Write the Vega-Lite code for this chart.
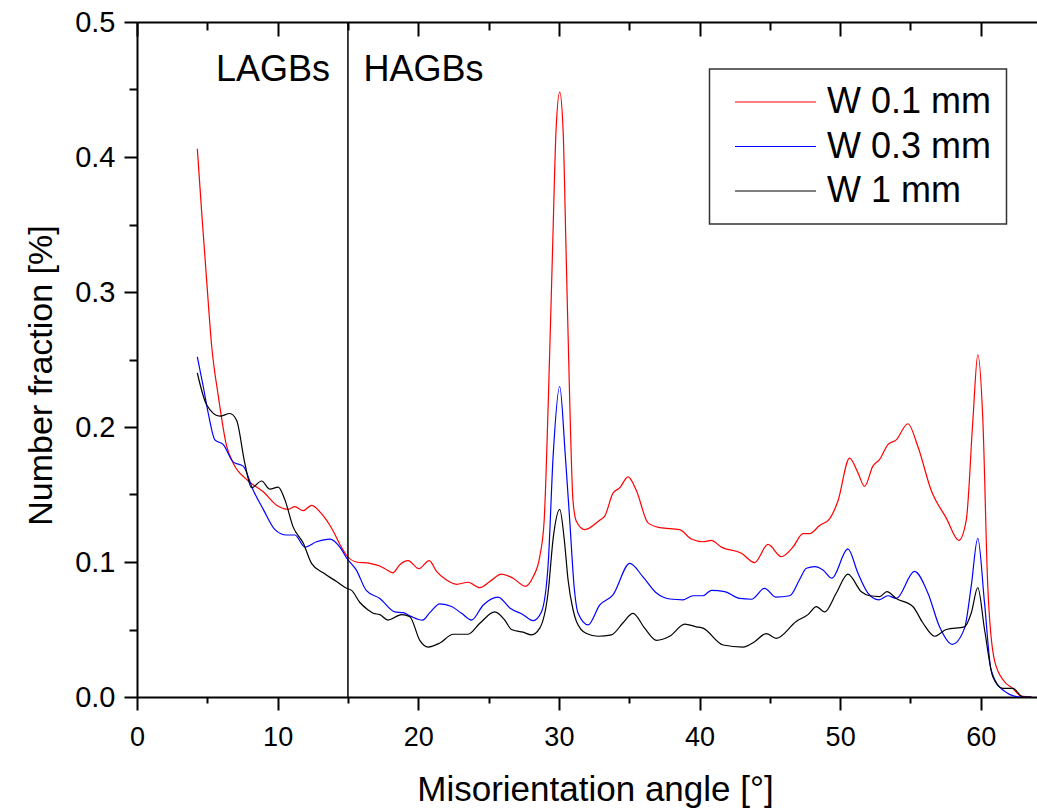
{
  "$schema": "https://vega.github.io/schema/vega-lite/v6.json",
  "width": 900,
  "height": 675,
  "autosize": {"type": "none"},
  "padding": {"left": 137, "top": 22, "right": 0, "bottom": 114},
  "background": "white",
  "config": {
    "font": "Liberation Sans",
    "view": {"stroke": null},
    "axis": {"grid": false, "domainColor": "black", "domainWidth": 2, "tickColor": "black", "tickWidth": 2, "labelColor": "black", "titleColor": "black", "labelFont": "Liberation Sans", "titleFont": "Liberation Sans", "titleFontWeight": "normal"}
  },
  "datasets": {
    "curves": [
      {"series": "W 0.1 mm", "angle": 4.29, "value": 0.406},
      {"series": "W 0.1 mm", "angle": 4.6, "value": 0.359},
      {"series": "W 0.1 mm", "angle": 4.95, "value": 0.309},
      {"series": "W 0.1 mm", "angle": 5.31, "value": 0.26},
      {"series": "W 0.1 mm", "angle": 5.78, "value": 0.223},
      {"series": "W 0.1 mm", "angle": 6.37, "value": 0.186},
      {"series": "W 0.1 mm", "angle": 6.85, "value": 0.173},
      {"series": "W 0.1 mm", "angle": 7.8, "value": 0.161},
      {"series": "W 0.1 mm", "angle": 8.98, "value": 0.152},
      {"series": "W 0.1 mm", "angle": 9.93, "value": 0.142},
      {"series": "W 0.1 mm", "angle": 10.76, "value": 0.139},
      {"series": "W 0.1 mm", "angle": 11.23, "value": 0.141},
      {"series": "W 0.1 mm", "angle": 11.82, "value": 0.138},
      {"series": "W 0.1 mm", "angle": 12.41, "value": 0.142},
      {"series": "W 0.1 mm", "angle": 13.1, "value": 0.136},
      {"series": "W 0.1 mm", "angle": 13.95, "value": 0.123},
      {"series": "W 0.1 mm", "angle": 14.43, "value": 0.113},
      {"series": "W 0.1 mm", "angle": 14.9, "value": 0.105},
      {"series": "W 0.1 mm", "angle": 15.6, "value": 0.1},
      {"series": "W 0.1 mm", "angle": 16.56, "value": 0.099},
      {"series": "W 0.1 mm", "angle": 17.27, "value": 0.097},
      {"series": "W 0.1 mm", "angle": 17.63, "value": 0.095},
      {"series": "W 0.1 mm", "angle": 18.2, "value": 0.092},
      {"series": "W 0.1 mm", "angle": 18.69, "value": 0.098},
      {"series": "W 0.1 mm", "angle": 19.28, "value": 0.101},
      {"series": "W 0.1 mm", "angle": 20.04, "value": 0.095},
      {"series": "W 0.1 mm", "angle": 20.78, "value": 0.101},
      {"series": "W 0.1 mm", "angle": 21.3, "value": 0.093},
      {"series": "W 0.1 mm", "angle": 21.96, "value": 0.087},
      {"series": "W 0.1 mm", "angle": 22.72, "value": 0.0835},
      {"series": "W 0.1 mm", "angle": 23.55, "value": 0.085},
      {"series": "W 0.1 mm", "angle": 24.38, "value": 0.081},
      {"series": "W 0.1 mm", "angle": 25.09, "value": 0.0855},
      {"series": "W 0.1 mm", "angle": 25.92, "value": 0.091},
      {"series": "W 0.1 mm", "angle": 26.74, "value": 0.088},
      {"series": "W 0.1 mm", "angle": 27.62, "value": 0.082},
      {"series": "W 0.1 mm", "angle": 28.17, "value": 0.089},
      {"series": "W 0.1 mm", "angle": 28.64, "value": 0.104},
      {"series": "W 0.1 mm", "angle": 28.95, "value": 0.13},
      {"series": "W 0.1 mm", "angle": 29.25, "value": 0.22},
      {"series": "W 0.1 mm", "angle": 29.55, "value": 0.331},
      {"series": "W 0.1 mm", "angle": 29.8, "value": 0.42},
      {"series": "W 0.1 mm", "angle": 30.06, "value": 0.448},
      {"series": "W 0.1 mm", "angle": 30.3, "value": 0.42},
      {"series": "W 0.1 mm", "angle": 30.51, "value": 0.331},
      {"series": "W 0.1 mm", "angle": 30.77, "value": 0.22},
      {"series": "W 0.1 mm", "angle": 31.0, "value": 0.146},
      {"series": "W 0.1 mm", "angle": 31.25, "value": 0.13},
      {"series": "W 0.1 mm", "angle": 31.84, "value": 0.124},
      {"series": "W 0.1 mm", "angle": 32.9, "value": 0.131},
      {"series": "W 0.1 mm", "angle": 33.26, "value": 0.134},
      {"series": "W 0.1 mm", "angle": 33.85, "value": 0.151},
      {"series": "W 0.1 mm", "angle": 34.33, "value": 0.155},
      {"series": "W 0.1 mm", "angle": 34.92, "value": 0.163},
      {"series": "W 0.1 mm", "angle": 35.51, "value": 0.153},
      {"series": "W 0.1 mm", "angle": 36.34, "value": 0.129},
      {"series": "W 0.1 mm", "angle": 37.17, "value": 0.1255},
      {"series": "W 0.1 mm", "angle": 38.59, "value": 0.124},
      {"series": "W 0.1 mm", "angle": 39.42, "value": 0.117},
      {"series": "W 0.1 mm", "angle": 40.25, "value": 0.115},
      {"series": "W 0.1 mm", "angle": 40.84, "value": 0.116},
      {"series": "W 0.1 mm", "angle": 41.56, "value": 0.111},
      {"series": "W 0.1 mm", "angle": 42.98, "value": 0.1065},
      {"series": "W 0.1 mm", "angle": 43.92, "value": 0.0996},
      {"series": "W 0.1 mm", "angle": 44.87, "value": 0.113},
      {"series": "W 0.1 mm", "angle": 45.82, "value": 0.104},
      {"series": "W 0.1 mm", "angle": 46.64, "value": 0.111},
      {"series": "W 0.1 mm", "angle": 47.36, "value": 0.121},
      {"series": "W 0.1 mm", "angle": 47.83, "value": 0.121},
      {"series": "W 0.1 mm", "angle": 48.54, "value": 0.127},
      {"series": "W 0.1 mm", "angle": 49.25, "value": 0.132},
      {"series": "W 0.1 mm", "angle": 49.84, "value": 0.145},
      {"series": "W 0.1 mm", "angle": 50.67, "value": 0.177},
      {"series": "W 0.1 mm", "angle": 51.27, "value": 0.166},
      {"series": "W 0.1 mm", "angle": 51.74, "value": 0.156},
      {"series": "W 0.1 mm", "angle": 52.33, "value": 0.171},
      {"series": "W 0.1 mm", "angle": 52.81, "value": 0.176},
      {"series": "W 0.1 mm", "angle": 53.4, "value": 0.187},
      {"series": "W 0.1 mm", "angle": 53.99, "value": 0.1905},
      {"series": "W 0.1 mm", "angle": 54.82, "value": 0.2024},
      {"series": "W 0.1 mm", "angle": 55.53, "value": 0.1855},
      {"series": "W 0.1 mm", "angle": 56.48, "value": 0.153},
      {"series": "W 0.1 mm", "angle": 57.55, "value": 0.1325},
      {"series": "W 0.1 mm", "angle": 58.44, "value": 0.116},
      {"series": "W 0.1 mm", "angle": 58.97, "value": 0.131},
      {"series": "W 0.1 mm", "angle": 59.44, "value": 0.205},
      {"series": "W 0.1 mm", "angle": 59.79, "value": 0.2535},
      {"series": "W 0.1 mm", "angle": 60.15, "value": 0.205},
      {"series": "W 0.1 mm", "angle": 60.5, "value": 0.082},
      {"series": "W 0.1 mm", "angle": 60.98, "value": 0.027},
      {"series": "W 0.1 mm", "angle": 61.69, "value": 0.0113},
      {"series": "W 0.1 mm", "angle": 62.28, "value": 0.0064},
      {"series": "W 0.1 mm", "angle": 62.87, "value": 0.0007},
      {"series": "W 0.1 mm", "angle": 63.6, "value": 0},
      {"series": "W 0.3 mm", "angle": 4.29, "value": 0.252},
      {"series": "W 0.3 mm", "angle": 4.71, "value": 0.23},
      {"series": "W 0.3 mm", "angle": 5.07, "value": 0.21},
      {"series": "W 0.3 mm", "angle": 5.54, "value": 0.1905},
      {"series": "W 0.3 mm", "angle": 6.14, "value": 0.187},
      {"series": "W 0.3 mm", "angle": 6.85, "value": 0.174},
      {"series": "W 0.3 mm", "angle": 7.55, "value": 0.171},
      {"series": "W 0.3 mm", "angle": 8.27, "value": 0.153},
      {"series": "W 0.3 mm", "angle": 8.98, "value": 0.139},
      {"series": "W 0.3 mm", "angle": 9.81, "value": 0.124},
      {"series": "W 0.3 mm", "angle": 10.64, "value": 0.12},
      {"series": "W 0.3 mm", "angle": 11.23, "value": 0.12},
      {"series": "W 0.3 mm", "angle": 11.94, "value": 0.111},
      {"series": "W 0.3 mm", "angle": 12.77, "value": 0.115},
      {"series": "W 0.3 mm", "angle": 13.72, "value": 0.117},
      {"series": "W 0.3 mm", "angle": 14.43, "value": 0.111},
      {"series": "W 0.3 mm", "angle": 14.9, "value": 0.103},
      {"series": "W 0.3 mm", "angle": 15.6, "value": 0.094},
      {"series": "W 0.3 mm", "angle": 16.3, "value": 0.079},
      {"series": "W 0.3 mm", "angle": 17.27, "value": 0.073},
      {"series": "W 0.3 mm", "angle": 18.34, "value": 0.063},
      {"series": "W 0.3 mm", "angle": 18.93, "value": 0.0625},
      {"series": "W 0.3 mm", "angle": 19.52, "value": 0.0595},
      {"series": "W 0.3 mm", "angle": 20.3, "value": 0.057},
      {"series": "W 0.3 mm", "angle": 20.82, "value": 0.0625},
      {"series": "W 0.3 mm", "angle": 21.54, "value": 0.069},
      {"series": "W 0.3 mm", "angle": 22.37, "value": 0.067},
      {"series": "W 0.3 mm", "angle": 23.08, "value": 0.062},
      {"series": "W 0.3 mm", "angle": 23.79, "value": 0.057},
      {"series": "W 0.3 mm", "angle": 24.61, "value": 0.068},
      {"series": "W 0.3 mm", "angle": 25.68, "value": 0.074},
      {"series": "W 0.3 mm", "angle": 26.51, "value": 0.066},
      {"series": "W 0.3 mm", "angle": 27.46, "value": 0.061},
      {"series": "W 0.3 mm", "angle": 28.17, "value": 0.0566},
      {"series": "W 0.3 mm", "angle": 28.76, "value": 0.063},
      {"series": "W 0.3 mm", "angle": 29.23, "value": 0.097},
      {"series": "W 0.3 mm", "angle": 29.6, "value": 0.18},
      {"series": "W 0.3 mm", "angle": 30.06, "value": 0.23},
      {"series": "W 0.3 mm", "angle": 30.45, "value": 0.18},
      {"series": "W 0.3 mm", "angle": 30.77, "value": 0.131},
      {"series": "W 0.3 mm", "angle": 31.1, "value": 0.08},
      {"series": "W 0.3 mm", "angle": 31.37, "value": 0.062},
      {"series": "W 0.3 mm", "angle": 32.08, "value": 0.0534},
      {"series": "W 0.3 mm", "angle": 32.9, "value": 0.068},
      {"series": "W 0.3 mm", "angle": 33.85, "value": 0.0756},
      {"series": "W 0.3 mm", "angle": 35.04, "value": 0.099},
      {"series": "W 0.3 mm", "angle": 35.98, "value": 0.089},
      {"series": "W 0.3 mm", "angle": 36.94, "value": 0.077},
      {"series": "W 0.3 mm", "angle": 37.88, "value": 0.0726},
      {"series": "W 0.3 mm", "angle": 38.83, "value": 0.072},
      {"series": "W 0.3 mm", "angle": 39.54, "value": 0.075},
      {"series": "W 0.3 mm", "angle": 40.25, "value": 0.075},
      {"series": "W 0.3 mm", "angle": 40.84, "value": 0.079},
      {"series": "W 0.3 mm", "angle": 41.79, "value": 0.078},
      {"series": "W 0.3 mm", "angle": 42.86, "value": 0.073},
      {"series": "W 0.3 mm", "angle": 43.69, "value": 0.0724},
      {"series": "W 0.3 mm", "angle": 44.63, "value": 0.0805},
      {"series": "W 0.3 mm", "angle": 45.42, "value": 0.074},
      {"series": "W 0.3 mm", "angle": 46.41, "value": 0.075},
      {"series": "W 0.3 mm", "angle": 47.12, "value": 0.087},
      {"series": "W 0.3 mm", "angle": 47.6, "value": 0.0954},
      {"series": "W 0.3 mm", "angle": 48.19, "value": 0.0966},
      {"series": "W 0.3 mm", "angle": 48.78, "value": 0.0941},
      {"series": "W 0.3 mm", "angle": 49.42, "value": 0.088},
      {"series": "W 0.3 mm", "angle": 50.55, "value": 0.1097},
      {"series": "W 0.3 mm", "angle": 51.27, "value": 0.0917},
      {"series": "W 0.3 mm", "angle": 51.98, "value": 0.077},
      {"series": "W 0.3 mm", "angle": 52.76, "value": 0.072},
      {"series": "W 0.3 mm", "angle": 53.4, "value": 0.075},
      {"series": "W 0.3 mm", "angle": 53.99, "value": 0.073},
      {"series": "W 0.3 mm", "angle": 55.29, "value": 0.093},
      {"series": "W 0.3 mm", "angle": 56.24, "value": 0.077},
      {"series": "W 0.3 mm", "angle": 57.07, "value": 0.052},
      {"series": "W 0.3 mm", "angle": 57.97, "value": 0.039},
      {"series": "W 0.3 mm", "angle": 58.85, "value": 0.051},
      {"series": "W 0.3 mm", "angle": 59.32, "value": 0.082},
      {"series": "W 0.3 mm", "angle": 59.79, "value": 0.1176},
      {"series": "W 0.3 mm", "angle": 60.27, "value": 0.0695},
      {"series": "W 0.3 mm", "angle": 60.74, "value": 0.02},
      {"series": "W 0.3 mm", "angle": 61.57, "value": 0.0052},
      {"series": "W 0.3 mm", "angle": 62.8, "value": 0},
      {"series": "W 0.3 mm", "angle": 63.6, "value": 0},
      {"series": "W 1 mm", "angle": 4.29, "value": 0.24},
      {"series": "W 1 mm", "angle": 4.95, "value": 0.2165},
      {"series": "W 1 mm", "angle": 5.9, "value": 0.208},
      {"series": "W 1 mm", "angle": 6.6, "value": 0.21},
      {"series": "W 1 mm", "angle": 7.08, "value": 0.205},
      {"series": "W 1 mm", "angle": 7.67, "value": 0.173},
      {"series": "W 1 mm", "angle": 8.15, "value": 0.155},
      {"series": "W 1 mm", "angle": 8.86, "value": 0.16},
      {"series": "W 1 mm", "angle": 9.45, "value": 0.154},
      {"series": "W 1 mm", "angle": 10.04, "value": 0.1555},
      {"series": "W 1 mm", "angle": 10.52, "value": 0.146},
      {"series": "W 1 mm", "angle": 11.1, "value": 0.126},
      {"series": "W 1 mm", "angle": 11.82, "value": 0.114},
      {"series": "W 1 mm", "angle": 12.41, "value": 0.099},
      {"series": "W 1 mm", "angle": 13.24, "value": 0.092},
      {"series": "W 1 mm", "angle": 14.19, "value": 0.0855},
      {"series": "W 1 mm", "angle": 14.9, "value": 0.0805},
      {"series": "W 1 mm", "angle": 15.26, "value": 0.079},
      {"series": "W 1 mm", "angle": 15.85, "value": 0.07},
      {"series": "W 1 mm", "angle": 16.44, "value": 0.0645},
      {"series": "W 1 mm", "angle": 16.8, "value": 0.062},
      {"series": "W 1 mm", "angle": 17.27, "value": 0.061},
      {"series": "W 1 mm", "angle": 17.86, "value": 0.057},
      {"series": "W 1 mm", "angle": 18.81, "value": 0.061},
      {"series": "W 1 mm", "angle": 19.4, "value": 0.0595},
      {"series": "W 1 mm", "angle": 20.11, "value": 0.042},
      {"series": "W 1 mm", "angle": 20.7, "value": 0.037},
      {"series": "W 1 mm", "angle": 21.54, "value": 0.04},
      {"series": "W 1 mm", "angle": 22.48, "value": 0.0465},
      {"series": "W 1 mm", "angle": 23.55, "value": 0.0465},
      {"series": "W 1 mm", "angle": 24.38, "value": 0.0546},
      {"series": "W 1 mm", "angle": 25.44, "value": 0.063},
      {"series": "W 1 mm", "angle": 26.15, "value": 0.057},
      {"series": "W 1 mm", "angle": 26.63, "value": 0.05},
      {"series": "W 1 mm", "angle": 27.46, "value": 0.048},
      {"series": "W 1 mm", "angle": 28.05, "value": 0.046},
      {"series": "W 1 mm", "angle": 28.64, "value": 0.051},
      {"series": "W 1 mm", "angle": 29.23, "value": 0.077},
      {"series": "W 1 mm", "angle": 29.6, "value": 0.118},
      {"series": "W 1 mm", "angle": 30.06, "value": 0.139},
      {"series": "W 1 mm", "angle": 30.4, "value": 0.115},
      {"series": "W 1 mm", "angle": 30.65, "value": 0.087},
      {"series": "W 1 mm", "angle": 31.0, "value": 0.065},
      {"series": "W 1 mm", "angle": 31.25, "value": 0.056},
      {"series": "W 1 mm", "angle": 31.96, "value": 0.047},
      {"series": "W 1 mm", "angle": 32.79, "value": 0.045},
      {"series": "W 1 mm", "angle": 33.74, "value": 0.046},
      {"series": "W 1 mm", "angle": 34.56, "value": 0.055},
      {"series": "W 1 mm", "angle": 35.27, "value": 0.062},
      {"series": "W 1 mm", "angle": 36.1, "value": 0.051},
      {"series": "W 1 mm", "angle": 36.94, "value": 0.042},
      {"series": "W 1 mm", "angle": 37.88, "value": 0.045},
      {"series": "W 1 mm", "angle": 38.95, "value": 0.054},
      {"series": "W 1 mm", "angle": 39.78, "value": 0.052},
      {"series": "W 1 mm", "angle": 40.25, "value": 0.051},
      {"series": "W 1 mm", "angle": 41.67, "value": 0.0385},
      {"series": "W 1 mm", "angle": 43.09, "value": 0.037},
      {"series": "W 1 mm", "angle": 43.92, "value": 0.041},
      {"series": "W 1 mm", "angle": 44.75, "value": 0.047},
      {"series": "W 1 mm", "angle": 45.46, "value": 0.0435},
      {"series": "W 1 mm", "angle": 46.88, "value": 0.056},
      {"series": "W 1 mm", "angle": 47.71, "value": 0.061},
      {"series": "W 1 mm", "angle": 48.31, "value": 0.067},
      {"series": "W 1 mm", "angle": 48.9, "value": 0.063},
      {"series": "W 1 mm", "angle": 49.73, "value": 0.077},
      {"series": "W 1 mm", "angle": 50.55, "value": 0.091},
      {"series": "W 1 mm", "angle": 51.51, "value": 0.078},
      {"series": "W 1 mm", "angle": 52.1, "value": 0.075},
      {"series": "W 1 mm", "angle": 52.81, "value": 0.0744},
      {"series": "W 1 mm", "angle": 53.33, "value": 0.078},
      {"series": "W 1 mm", "angle": 53.99, "value": 0.073},
      {"series": "W 1 mm", "angle": 55.17, "value": 0.067},
      {"series": "W 1 mm", "angle": 55.88, "value": 0.055},
      {"series": "W 1 mm", "angle": 56.72, "value": 0.045},
      {"series": "W 1 mm", "angle": 57.55, "value": 0.05},
      {"series": "W 1 mm", "angle": 58.85, "value": 0.052},
      {"series": "W 1 mm", "angle": 59.32, "value": 0.062},
      {"series": "W 1 mm", "angle": 59.79, "value": 0.081},
      {"series": "W 1 mm", "angle": 60.27, "value": 0.05},
      {"series": "W 1 mm", "angle": 60.86, "value": 0.015},
      {"series": "W 1 mm", "angle": 61.57, "value": 0.0064},
      {"series": "W 1 mm", "angle": 62.28, "value": 0.0064},
      {"series": "W 1 mm", "angle": 63.0, "value": 0},
      {"series": "W 1 mm", "angle": 63.6, "value": 0}
    ],
    "boundary": [{"angle": 15}],
    "labels": [
      {"text": "LAGBs", "angle": 5.62, "value": 0.4563},
      {"text": "HAGBs", "angle": 16.1, "value": 0.4563}
    ]
  },
  "resolve": {"axis": {"x": "independent", "y": "independent"}},
  "layer": [
    {
      "data": {"name": "curves"},
      "mark": {"type": "line", "interpolate": "monotone", "strokeWidth": 1.2, "clip": true},
      "encoding": {
        "x": {
          "field": "angle", "type": "quantitative",
          "scale": {"domain": [0, 64], "nice": false, "zero": false},
          "axis": {
            "orient": "bottom",
            "values": [0, 10, 20, 30, 40, 50, 60],
            "tickSize": 13,
            "labelFontSize": 27,
            "labelPadding": 14,
            "labelFlush": false,
            "labelOverlap": false,
            "title": "Misorientation angle [°]",
            "titleFontSize": 35,
            "titleX": 458,
            "titleY": 103,
            "titleBaseline": "alphabetic",
            "titleAnchor": "middle"
          }
        },
        "y": {
          "field": "value", "type": "quantitative",
          "scale": {"domain": [0, 0.5], "nice": false},
          "axis": {
            "orient": "left",
            "values": [0, 0.1, 0.2, 0.3, 0.4, 0.5],
            "format": ".1f",
            "tickSize": 13,
            "labelFontSize": 29,
            "labelPadding": 9,
            "labelFlush": false,
            "labelOverlap": false,
            "title": "Number fraction [%]",
            "titleFontSize": 34,
            "titleAngle": -90,
            "titleX": -96,
            "titleY": 353,
            "titleBaseline": "middle",
            "titleAnchor": "middle"
          }
        },
        "color": {
          "field": "series", "type": "nominal",
          "scale": {"domain": ["W 0.1 mm", "W 0.3 mm", "W 1 mm"], "range": ["#ff0000", "#0000ff", "#000000"]},
          "legend": {
            "title": null,
            "orient": "none",
            "legendX": 572.5,
            "legendY": 47,
            "symbolType": "M-3,0H3",
            "symbolSize": 729,
            "symbolStrokeWidth": 1,
            "symbolOffset": 33,
            "labelOffset": 33.5,
            "labelFontSize": 36,
            "labelLimit": 400,
            "labelFont": "Liberation Sans",
            "labelColor": "black",
            "rowPadding": 8.5,
            "padding": 15,
            "strokeColor": "#333333",
            "fillColor": "white",
            "encode": {"legend": {"update": {"strokeWidth": {"value": 1.5}}}}
          }
        }
      }
    },
    {
      "data": {"name": "boundary"},
      "mark": {"type": "rule", "color": "black", "strokeWidth": 1},
      "encoding": {
        "x": {
          "field": "angle", "type": "quantitative",
          "scale": {"domain": [0, 64], "nice": false, "zero": false},
          "axis": {
            "orient": "bottom",
            "values": [5, 15, 25, 35, 45, 55],
            "tickSize": 6,
            "domain": false,
            "labels": false,
            "title": null
          }
        }
      }
    },
    {
      "data": {"name": "boundary"},
      "mark": {"type": "rule", "color": "black", "strokeWidth": 1},
      "encoding": {
        "x": {
          "field": "angle", "type": "quantitative",
          "scale": {"domain": [0, 64], "nice": false, "zero": false},
          "axis": {
            "orient": "top",
            "values": [5, 15, 25, 35, 45, 55],
            "tickSize": -8,
            "domain": false,
            "labels": false,
            "title": null
          }
        }
      }
    },
    {
      "data": {"name": "labels"},
      "mark": {"type": "text", "align": "left", "baseline": "alphabetic", "fontSize": 36, "font": "Liberation Sans", "color": "black"},
      "encoding": {
        "x": {
          "field": "angle", "type": "quantitative",
          "scale": {"domain": [0, 64], "nice": false, "zero": false},
          "axis": {
            "orient": "top",
            "values": [0, 10, 20, 30, 40, 50, 60],
            "tickSize": -14,
            "labels": false,
            "title": null
          }
        },
        "y": {
          "field": "value", "type": "quantitative",
          "scale": {"domain": [0, 0.5], "nice": false},
          "axis": {
            "orient": "left",
            "values": [0.05, 0.15, 0.25, 0.35, 0.45],
            "tickSize": 8,
            "domain": false,
            "labels": false,
            "title": null
          }
        },
        "text": {"field": "text"}
      }
    }
  ]
}
